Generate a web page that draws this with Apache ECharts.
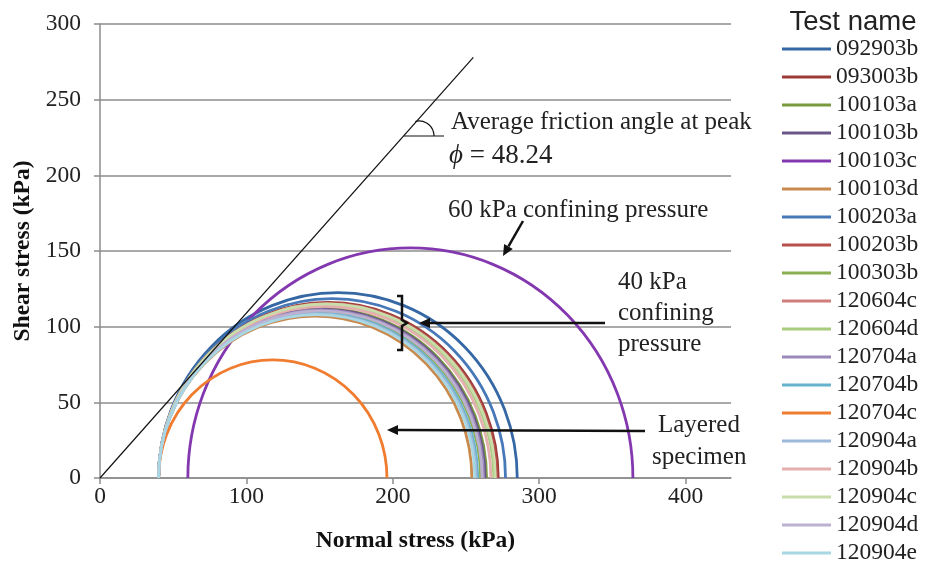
<!DOCTYPE html>
<html><head><meta charset="utf-8">
<script src="https://cdn.jsdelivr.net/npm/echarts@6/dist/echarts.min.js"></script>
<style>html,body{margin:0;padding:0;background:#fff}#c{width:932px;height:568px}</style>
</head><body><div id="c"></div>
<script>
// Test names (legend order)
const testNames = ['092903b','093003b','100103a','100103b','100103c','100103d','100203a','100203b','100303b','120604c','120604d','120704a','120704b','120704c','120904a','120904b','120904c','120904d','120904e'];
// Minor principal stress (left end of Mohr circle), kPa
const sigma3 = [40,40,40,40,60,40,40,40,40,40,40,40,40,40,40,40,40,40,40];
// Major principal stress (right end of Mohr circle), kPa
const sigma1 = [285,272,264,263,364,254,277,271,260,270,269,262,258,196,257,267,270,261,256];
const colors = ['#3567A4','#9B3B38','#7A9A3E','#6A5688','#8438B0','#C98A4E','#4778B8','#B8504C','#8AAE50','#CF7E7C','#A9CB7E','#9A89BA','#64B2CB','#F07C30','#9DB8DA','#E4AFAE','#C9DDAA','#BDB1D2','#A8D6E3'];
// Friction envelope end points [normal, shear]
const frictionLine = [[0,0],[255,278]];
const xTicks = [0,100,200,300,400];

const serif = '"Liberation Serif","Times New Roman",serif';
const chart = echarts.init(document.getElementById('c'));

const circleSeries = testNames.map((n,i)=>({
  name:n, type:'custom', coordinateSystem:'cartesian2d',
  itemStyle:{color:colors[i]},
  encode:{x:[0,1], y:2},
  data:[[sigma3[i], sigma1[i], 0]],
  z: 3,
  renderItem:function(params, api){
    const s3 = api.value(0), s1 = api.value(1);
    const p0 = api.coord([s3,0]), p1 = api.coord([s1,0]);
    const rx = (p1[0]-p0[0])/2;
    const ry = api.size([0,(s1-s3)/2])[1];
    return {type:'path', shape:{pathData:'M'+p0[0]+' '+p0[1]+' A'+rx+' '+ry+' 0 0 1 '+p1[0]+' '+p1[1]},
      style:{fill:null, stroke:colors[i], lineWidth:2.8}};
  }
}));

function arrow(x1,y1,x2,y2){
  const a = Math.atan2(y2-y1,x2-x1), L=11, W=5;
  const bx = x2 - L*Math.cos(a), by = y2 - L*Math.sin(a);
  return [
    {type:'line', shape:{x1:x1,y1:y1,x2:bx,y2:by}, style:{stroke:'#111', lineWidth:2.5}, z:10},
    {type:'polygon', shape:{points:[[x2,y2],[bx - W*Math.sin(a), by + W*Math.cos(a)],[bx + W*Math.sin(a), by - W*Math.cos(a)]]}, style:{fill:'#111'}, z:10}
  ];
}

const txt = (x,y,t,extra)=>Object.assign({type:'text', x:x, y:y, z:10, style:Object.assign({text:t, font:'25px '+serif, fill:'#222', textVerticalAlign:'middle'}, extra||{})});

chart.setOption({
  animation:false,
  grid:{left:100, right:201, top:24, bottom:90},
  xAxis:{type:'value', min:0, max:431, interval:100,
    name:'Normal stress (kPa)', nameLocation:'middle', nameGap:51,
    nameTextStyle:{fontFamily:serif, fontWeight:'bold', fontSize:23.5, color:'#111'},
    axisLine:{lineStyle:{color:'#8c8c8c', width:1.5}},
    axisTick:{show:true, length:6, lineStyle:{color:'#8c8c8c', width:1.5}, customValues:xTicks},
    axisLabel:{fontFamily:serif, fontSize:23.5, color:'#222', margin:7, customValues:xTicks},
    splitLine:{show:false}},
  yAxis:{type:'value', min:0, max:300, interval:50,
    name:'Shear stress (kPa)', nameLocation:'middle', nameGap:55,
    nameTextStyle:{fontFamily:serif, fontWeight:'bold', fontSize:23.5, color:'#111'},
    axisLine:{show:true, lineStyle:{color:'#8c8c8c', width:1.5}},
    axisTick:{show:true, length:6, lineStyle:{color:'#8c8c8c', width:1.5}},
    axisLabel:{fontFamily:serif, fontSize:23.5, color:'#222', margin:19},
    splitLine:{lineStyle:{color:'#8c8c8c', width:1.5}}},
  legend:{orient:'vertical', left:782, top:37, padding:0, icon:'rect', itemWidth:49, itemHeight:3, itemGap:4,
    data:testNames,
    textStyle:{fontFamily:serif, fontSize:23.5, color:'#222'}},
  series: circleSeries.concat([{
    type:'line', name:'friction', data:frictionLine, symbol:'none', z:4,
    lineStyle:{color:'#111', width:1.2}, silent:true
  }]),
  graphic:[
    txt(853,22,'Test name',{font:'27.5px "Liberation Sans",Arial,sans-serif', textAlign:'center'}),
    txt(451,122,'Average friction angle at peak',{font:'25px '+serif}),
    {type:'text', x:449, y:156, z:10, style:{text:'{i|\u03d5} = 48.24', font:'27px '+serif, fill:'#222', textVerticalAlign:'middle',
      rich:{i:{fontStyle:'italic', fontFamily:serif, fontSize:27}}}},
    {type:'line', shape:{x1:404,y1:136,x2:444,y2:136}, style:{stroke:'#111', lineWidth:1.2}, z:10},
    {type:'arc', shape:{cx:419, cy:136, r:15, startAngle:-Math.PI*0.58, endAngle:0, clockwise:true}, style:{stroke:'#111', lineWidth:1.2, fill:null}, z:10},
    txt(448,210,'60 kPa confining pressure'),
    txt(618,282,'40 kPa'),
    txt(618,313,'confining'),
    txt(618,344,'pressure'),
    txt(658,425,'Layered'),
    txt(652,457,'specimen'),
    {type:'polyline', shape:{points:[[397,296],[402,296],[402,320],[407,323],[402,326],[402,350],[397,350]]}, style:{stroke:'#111', lineWidth:2.5, fill:null}, z:10}
  ].concat(arrow(523,221,503,256), arrow(605,323,419,323), arrow(645,431,387,430))
});
</script></body></html>
